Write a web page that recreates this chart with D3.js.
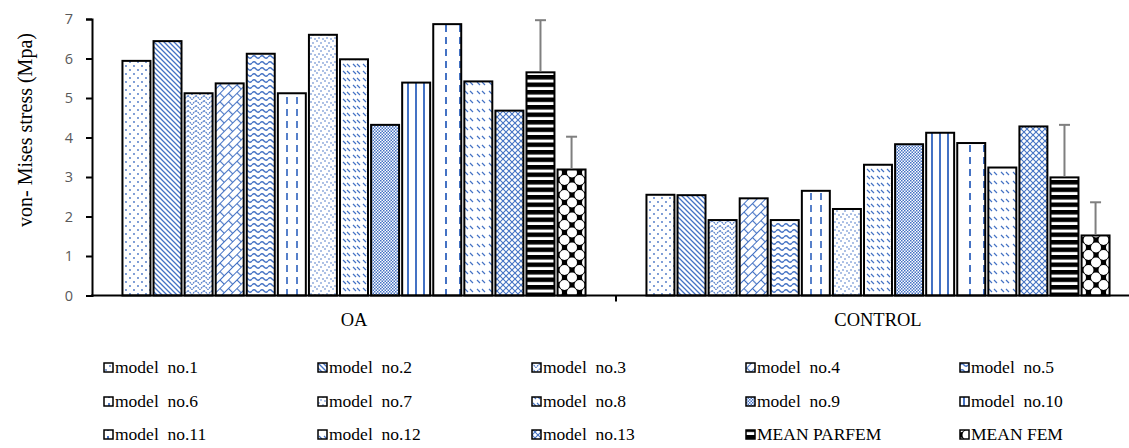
<!DOCTYPE html>
<html>
<head>
<meta charset="utf-8">
<script src="https://cdn.jsdelivr.net/npm/d3@7"></script>
<style>
  body { margin: 0; background: #fff; }
  svg { display: block; }
  .serif { font-family: "Liberation Serif", "DejaVu Serif", "Times New Roman", serif; }
</style>
</head>
<body>
<div id="chart"></div>
<script>
const width = 1129;
const height = 448;

const groups = ["OA", "CONTROL"];
const seriesNames = [
  "model  no.1", "model  no.2", "model  no.3", "model  no.4", "model  no.5",
  "model  no.6", "model  no.7", "model  no.8", "model  no.9", "model  no.10",
  "model  no.11", "model  no.12", "model  no.13", "MEAN PARFEM", "MEAN FEM"
];
const oaValues = [5.94, 6.44, 5.12, 5.37, 6.12, 5.12, 6.60, 5.98, 4.32, 5.39, 6.87, 5.42, 4.68, 5.65, 3.19];
const controlValues = [2.55, 2.54, 1.91, 2.46, 1.91, 2.65, 2.19, 3.31, 3.83, 4.12, 3.86, 3.24, 4.28, 2.99, 1.52];
const errorSeries = ["MEAN PARFEM", "MEAN FEM"];
const oaErrors = [1.32, 0.83];
const controlErrors = [1.33, 0.84];
const yTicks = [0, 1, 2, 3, 4, 5, 6, 7];

const blue = "#4472c4";

const svg = d3.select("#chart").append("svg")
  .attr("width", width)
  .attr("height", height)
  .attr("viewBox", [0, 0, width, height]);

const defs = svg.append("defs");

function pattern(id, w, h, draw, transform) {
  const p = defs.append("pattern")
    .attr("id", id)
    .attr("patternUnits", "userSpaceOnUse")
    .attr("width", w)
    .attr("height", h);
  if (transform) p.attr("patternTransform", transform);
  p.append("rect").attr("width", w).attr("height", h).attr("fill", "#fff");
  draw(p);
}

// one fill per series, roughly like the Excel pattern fills
const fills = [
  (id) => pattern(id, 8, 8, (p) => {
    p.append("circle").attr("cx", 2).attr("cy", 2).attr("r", 0.9).attr("fill", blue);
    p.append("circle").attr("cx", 6).attr("cy", 6).attr("r", 0.9).attr("fill", blue);
  }),
  (id) => pattern(id, 5, 5, (p) => {
    p.append("path").attr("d", "M-1,-1L6,6M-1,4L1,6M4,-1L6,1")
      .attr("stroke", blue).attr("stroke-width", 1.3);
  }),
  (id) => pattern(id, 8, 5, (p) => {
    p.append("path").attr("d", "M0,0.5L4,4.5L8,0.5")
      .attr("fill", "none").attr("stroke", blue).attr("stroke-width", 1.2)
      .attr("stroke-dasharray", "1.6,0.8");
  }),
  (id) => pattern(id, 12, 12, (p) => {
    p.append("path").attr("d", "M0,0.5H12M0,6.5H12M0.5,0V6.5M6.5,6.5V12")
      .attr("stroke", blue).attr("stroke-width", 1.2);
  }, "rotate(-45)"),
  (id) => pattern(id, 8, 6, (p) => {
    p.append("path").attr("d", "M0,3Q2,0.5 4,3T8,3")
      .attr("fill", "none").attr("stroke", blue).attr("stroke-width", 1.3);
  }),
  (id) => pattern(id, 10, 12, (p) => {
    p.append("path").attr("d", "M5,1V8")
      .attr("stroke", blue).attr("stroke-width", 1.8);
  }),
  (id) => pattern(id, 8, 8, (p) => {
    [[1, 1], [5, 3], [3, 6], [7, 7]].forEach(([x, y]) =>
      p.append("circle").attr("cx", x).attr("cy", y).attr("r", 0.8).attr("fill", blue));
  }),
  (id) => pattern(id, 10, 7, (p) => {
    p.append("path").attr("d", "M1,1L4,4M5,1L8,4")
      .attr("stroke", blue).attr("stroke-width", 1.2);
  }),
  (id) => pattern(id, 3, 3, (p) => {
    p.append("rect").attr("width", 1.5).attr("height", 1.5).attr("fill", blue);
    p.append("rect").attr("x", 1.5).attr("y", 1.5).attr("width", 1.5).attr("height", 1.5).attr("fill", blue);
  }),
  (id) => pattern(id, 8, 8, (p) => {
    p.append("path").attr("d", "M4,0V8")
      .attr("stroke", blue).attr("stroke-width", 2);
  }),
  (id) => pattern(id, 14, 12, (p) => {
    p.append("path").attr("d", "M4,1V8")
      .attr("stroke", blue).attr("stroke-width", 2);
  }),
  (id) => pattern(id, 12, 9, (p) => {
    p.append("path").attr("d", "M1,1L4,4M6,1L9,4")
      .attr("stroke", blue).attr("stroke-width", 1.2);
  }),
  (id) => pattern(id, 6, 6, (p) => {
    p.append("path").attr("d", "M0,0L6,6M6,0L0,6")
      .attr("stroke", blue).attr("stroke-width", 1.1);
  }),
  (id) => pattern(id, 10, 7.5, (p) => {
    p.append("rect").attr("width", 10).attr("height", 4.5).attr("fill", "#000");
  }),
  (id) => pattern(id, 15, 15, (p) => {
    p.append("rect").attr("width", 15).attr("height", 15).attr("fill", "#000");
    [[7.5, 0], [0, 7.5], [15, 7.5], [7.5, 15]].forEach(([x, y]) =>
      p.append("circle").attr("cx", x).attr("cy", y).attr("r", 5.0).attr("fill", "#fff"));
  })
];
fills.forEach((f, i) => f("pat" + i));

const x0 = d3.scaleBand().domain(groups).range([92, 1140]);
const x1 = d3.scaleBand().domain(seriesNames).range([0, x0.bandwidth()])
  .paddingInner(0.1).paddingOuter(0.98);
const y = d3.scaleLinear().domain([0, 7]).range([295.5, 19]);

const table = groups.map((g, gi) => ({
  group: g,
  values: seriesNames.map((s, si) => ({
    series: s,
    index: si,
    value: (gi === 0 ? oaValues : controlValues)[si],
    error: errorSeries.includes(s)
      ? (gi === 0 ? oaErrors : controlErrors)[errorSeries.indexOf(s)]
      : null
  }))
}));

// bars
const gGroups = svg.selectAll("g.group")
  .data(table)
  .join("g")
  .attr("class", "group")
  .attr("transform", (d) => `translate(${x0(d.group)},0)`);

gGroups.selectAll("rect")
  .data((d) => d.values)
  .join("rect")
  .attr("x", (d) => x1(d.series))
  .attr("y", (d) => y(d.value))
  .attr("width", x1.bandwidth())
  .attr("height", (d) => y(0) - y(d.value))
  .attr("fill", (d) => `url(#pat${d.index})`)
  .attr("stroke", "#000")
  .attr("stroke-width", 2);

// error bars (plus side only)
const errs = gGroups.selectAll("g.err")
  .data((d) => d.values.filter((v) => v.error != null))
  .join("g")
  .attr("class", "err")
  .attr("stroke", "#7f7f7f")
  .attr("stroke-width", 2);

errs.append("line")
  .attr("x1", (d) => x1(d.series) + x1.bandwidth() / 2)
  .attr("x2", (d) => x1(d.series) + x1.bandwidth() / 2)
  .attr("y1", (d) => y(d.value) - 1)
  .attr("y2", (d) => y(d.value + d.error));
errs.append("line")
  .attr("x1", (d) => x1(d.series) + x1.bandwidth() / 2 - 5.5)
  .attr("x2", (d) => x1(d.series) + x1.bandwidth() / 2 + 5.5)
  .attr("y1", (d) => y(d.value + d.error))
  .attr("y2", (d) => y(d.value + d.error));

// y axis
const gy = svg.append("g")
  .attr("transform", "translate(92,0)")
  .call(d3.axisLeft(y).tickValues(yTicks).tickSize(6).tickPadding(13).tickFormat(d3.format("d")));
gy.select(".domain").attr("stroke", "#000").attr("stroke-width", 2);
gy.selectAll(".tick line").attr("stroke", "#000").attr("stroke-width", 2);
gy.selectAll(".tick text")
  .attr("fill", "#595959")
  .style("font-family", "'Open Sans', 'Liberation Sans', sans-serif")
  .style("font-size", "14.5px");

// x axis
const gx = svg.append("g")
  .attr("transform", `translate(0,${y(0)})`)
  .call(d3.axisBottom(x0).tickSize(0).tickPadding(17));
gx.select(".domain").remove();
gx.append("line")
  .attr("x1", 91).attr("x2", width)
  .attr("stroke", "#000").attr("stroke-width", 2);
gx.append("line")
  .attr("x1", x0("CONTROL")).attr("x2", x0("CONTROL"))
  .attr("y1", 0).attr("y2", 6)
  .attr("stroke", "#000").attr("stroke-width", 2);
gx.selectAll(".tick text")
  .attr("class", "serif")
  .attr("fill", "#000")
  .style("font-size", "18.5px");

// y title
svg.append("text")
  .attr("class", "serif")
  .attr("transform", "translate(32,130) rotate(-90)")
  .attr("text-anchor", "middle")
  .style("font-size", "20px")
  .text("von- Mises stress (Mpa)");

// legend
const legendCols = [104, 318, 532, 746, 960];
const legendRows = [368, 402, 435];
const legend = svg.selectAll("g.legend")
  .data(seriesNames)
  .join("g")
  .attr("class", "legend")
  .attr("transform", (d, i) => `translate(${legendCols[i % 5]},${legendRows[Math.floor(i / 5)]})`);

legend.append("rect")
  .attr("x", 0).attr("y", -5)
  .attr("width", 9).attr("height", 9)
  .attr("fill", (d, i) => `url(#pat${i})`)
  .attr("stroke", "#000")
  .attr("stroke-width", 1.5);

legend.append("text")
  .attr("class", "serif")
  .attr("x", 11)
  .attr("y", 5)
  .style("font-size", "17.5px")
  .style("white-space", "pre")
  .text((d) => d);
</script>
</body>
</html>
